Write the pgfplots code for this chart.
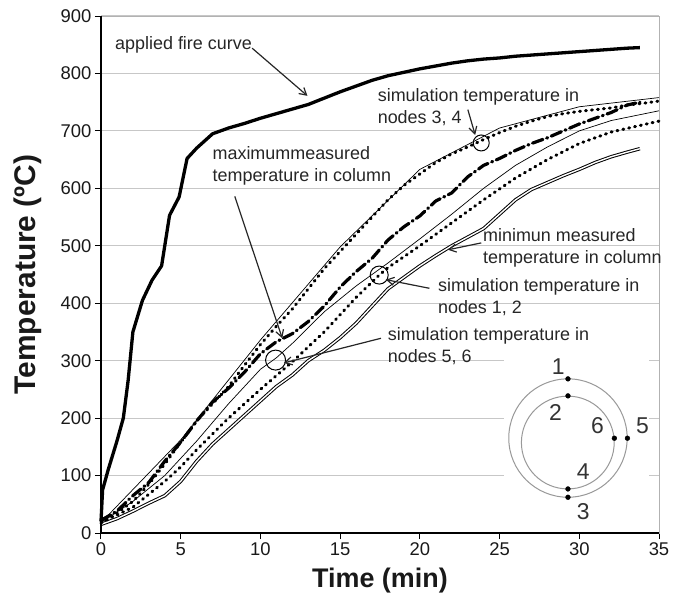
\documentclass[border=0pt]{standalone}
\usepackage{fontspec}
\setmainfont{Liberation Sans}
\usepackage{pgfplots}
\pgfplotsset{compat=1.18}
\usepackage{pgfplotstable}
\usetikzlibrary{arrows.meta}

\pgfplotstableread{
t T
0 20
0.1 75
0.45 110
1.0 160
1.4 200
1.7 265
2.0 350
2.6 405
3.2 440
3.8 465
4.0 500
4.3 553
4.9 585
5.4 652
6.0 670
7.0 695
8 705
9 713
10 722
11 730
12 738
13 746
14 757
15 768
16 778
17 788
18 796
19 802
20 808
21 813
22 818
23 822
24 825
25 827
26 830
27 832
28 834
29 836
30 838
31 840
32 842
33 844
33.8 845
}\firedata

\pgfplotstableread{
t T
0 18
1 35
2 55
3 85
4 120
5 158
6 195
7 225
8 255
9 292
10 328
11 360
12 390
13 425
14 460
15 490
16 520
17 550
18 580
19 605
20 625
21 645
22 660
23 672
24 685
25 697
26 708
27 717
28 725
29 730
30 734
31 737
32 740
33 745
34 748
35 752
}\nodesthreefour

\pgfplotstableread{
t T
0 18
5 162
10 336
15 498
20 633
25 705
30 742
35 758
}\thinupper

\pgfplotstableread{
t T
0 22
1 38
2 65
3 88
4 125
5 158
6 195
7 228
8 252
9 280
10 312
11 333
12 347
13 368
14 395
15 428
16 455
17 478
18 510
19 533
20 552
21 578
22 592
23 620
24 640
25 652
26 666
27 678
28 688
29 700
30 712
31 722
32 732
33 745
33.8 750
}\maxdata

\pgfplotstableread{
t T
0 18
2 55
4 100
6 160
8 225
10 285
11 305
12 330
14 385
16 430
18 470
20 512
22 555
24 600
26 640
28 672
30 700
32 718
35 735
}\nodesfivesix

\pgfplotstableread{
t T
0 18
2 45
4 90
5 115
6 145
8 200
10 250
12 298
14 350
16 410
17.45 449
18 462
20 500
22 540
24 580
26 618
28 650
30 678
32 698
35 717
}\nodesonetwo

\pgfplotstableread{
t T
0 15
1 25
2 38
3 52
4 65
5 90
6 125
7 155
8 180
9 205
10 230
11 255
12 275
13 300
14 318
15 340
16 365
17 395
18 425
19 445
20 465
21 483
22 500
23 515
24 530
25 555
26 580
27 598
28 610
29 622
30 633
31 645
32 655
33 663
33.8 669
}\mindata

\pgfplotstableread{
t T
29.29 268.3
29.29 238.7
33.02 165
32.20 165
29.29 76.7
29.29 62.2
}\nodedots

\begin{document}
\begin{tikzpicture}[
  ann/.style={font=\fontsize{18}{22}\selectfont, text=black!85, align=left, anchor=west, inner sep=0pt},
  arr/.style={black!85, line width=1.2bp, -{Straight Barb[length=7bp,width=8bp]}},
  num/.style={font=\fontsize{23}{26}\selectfont, text=black!80},
  dotl/.style={black, line width=3bp, dash pattern=on 1bp off 5bp, line cap=round},
]
\useasboundingbox (-101bp,-70bp) rectangle (581bp,533bp);
\begin{axis}[
  at={(0,0)}, anchor=south west,
  scale only axis, width=558bp, height=517bp,
  xmin=0, xmax=35, ymin=0, ymax=900,
  xtick={0,5,...,35}, ytick={0,100,...,900},
  ymajorgrids, grid style={line width=1.2bp, color=black!22},
  axis line style={draw=black!30, line width=1bp},
  tick align=outside, major tick length=6bp,
  tick style={black, line width=1bp},
  xtick pos=left, ytick pos=left,
  ticklabel style={font=\fontsize{18.5}{22}\selectfont, text=black!90},
  /pgf/number format/assume math mode=true,
  xlabel={Time (min)}, ylabel={Temperature (ºC)},
  every axis x label/.style={at={(axis description cs:0.5,0)}, yshift=-48bp, anchor=center, font=\bfseries\fontsize{27}{30}\selectfont, text=black!90},
  every axis y label/.style={at={(axis description cs:0,0.5)}, xshift=-73bp, anchor=center, rotate=90, font=\bfseries\fontsize{30}{34}\selectfont, text=black!90},
  clip=false,
]
% white box behind node diagram
\fill[white] (axis cs:25.3,319) rectangle (axis cs:34.36,19);

% thin lines
\addplot[black, line width=0.7bp, no marks] table {\thinupper};
\addplot[black, line width=0.7bp, no marks] table {\nodesfivesix};
% minimum measured (double line)
\addplot[black, line width=3.4bp, no marks, line join=round] table {\mindata};
\addplot[white, line width=1.4bp, no marks, line join=round] table {\mindata};
% simulation dotted lines
\addplot[dotl, no marks] table {\nodesthreefour};
\addplot[dotl, no marks] table {\nodesonetwo};
% maximum measured
\addplot[black, line width=3.2bp, dash pattern=on 11bp off 4bp on 1bp off 4bp, line cap=round, no marks] table {\maxdata};
% fire curve
\addplot[black, line width=3.3bp, line join=round, no marks] table {\firedata};

% node diagram
\draw[black!40, line width=1bp] (axis cs:29.29,165.3) circle[radius=59.2bp];
\draw[black!40, line width=1bp] (axis cs:29.28,157.5) circle[radius=46.4bp];
\addplot[only marks, mark=*, mark size=2.4bp, black] table {\nodedots};
\node[num] at (axis cs:28.68,289.7) {1};
\node[num] at (axis cs:28.51,209) {2};
\node[num] at (axis cs:31.15,186.4) {6};
\node[num] at (axis cs:33.96,186.4) {5};
\node[num] at (axis cs:30.25,106.8) {4};
\node[num] at (axis cs:30.25,37.1) {3};

% annotation circles
\draw[black, line width=1bp] (axis cs:23.85,679) circle[radius=8bp];
\draw[black, line width=1bp] (axis cs:17.45,449) circle[radius=9bp];
\draw[black, line width=1bp] (axis cs:10.95,301) circle[radius=10bp];

% annotations
\node[ann] at (axis cs:0.88,850) {applied fire curve};
\draw[arr] (axis cs:9.48,844) -- (axis cs:12.95,761);
\node[ann] at (axis cs:6.99,639) {maximummeasured\\temperature in column};
\draw[arr] (axis cs:8.39,586) -- (axis cs:11.37,339);
\node[ann] at (axis cs:17.35,742) {simulation temperature in\\nodes 3, 4};
\draw[arr] (axis cs:23.01,737) -- (axis cs:23.47,693);
\node[ann] at (axis cs:23.96,496) {minimun measured\\temperature in column};
\draw[arr] (axis cs:23.85,505) -- (axis cs:21.76,493);
\node[ann] at (axis cs:21.13,410) {simulation temperature in\\nodes 1, 2};
\draw[arr] (axis cs:20.6,426) -- (axis cs:17.87,441);
\node[ann] at (axis cs:17.98,325) {simulation temperature in\\nodes 5, 6};
\draw[arr] (axis cs:17.56,339) -- (axis cs:11.47,296);

% black left and bottom axis lines
\draw[black, line width=1.2bp] (rel axis cs:0,1) -- (rel axis cs:0,0) -- (rel axis cs:1,0);
\end{axis}
\end{tikzpicture}
\end{document}
